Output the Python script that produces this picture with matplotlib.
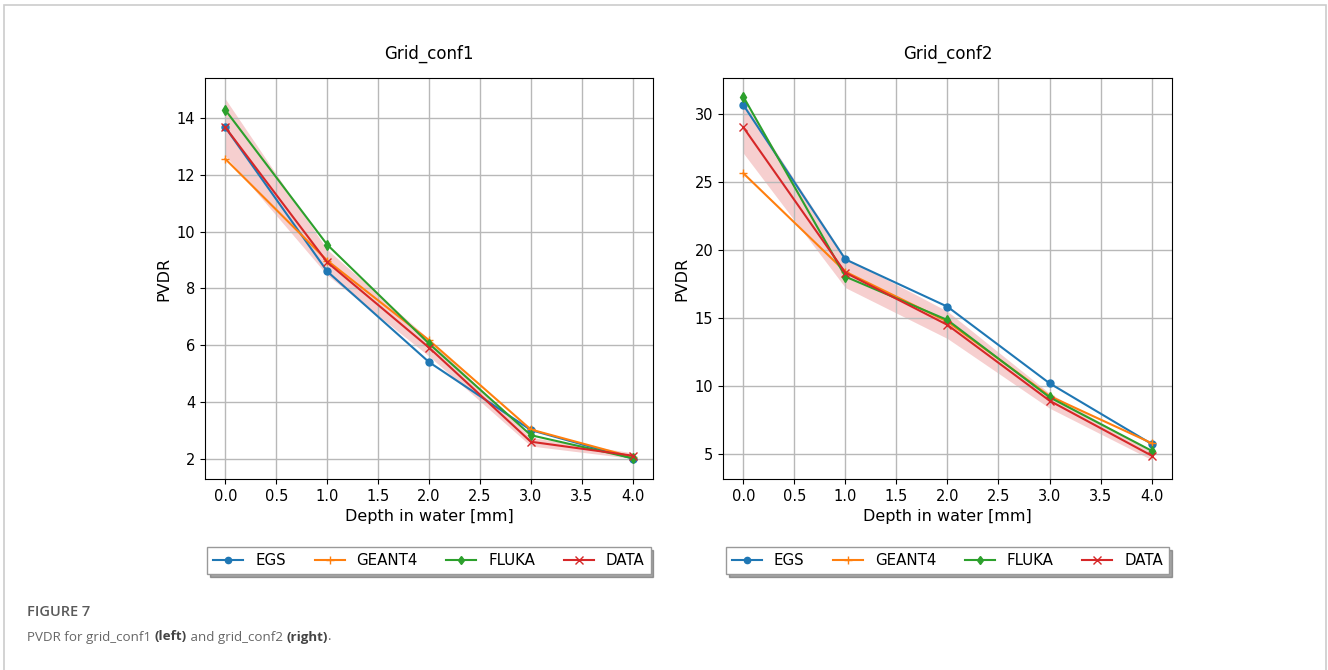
import numpy as np
from matplotlib import pyplot as plt
from matplotlib.patches import Rectangle

# depth points [mm]
depth = [0.0, 1.0, 2.0, 3.0, 4.0]

# Grid_conf1
egs_1 = [13.66, 8.60, 5.41, 3.02, 2.02]
geant4_1 = [12.55, 8.98, 6.18, 3.04, 2.07]
fluka_1 = [14.27, 9.54, 6.06, 2.84, 2.03]
data_1 = [13.66, 8.92, 5.92, 2.61, 2.12]
err_1 = [1.0, 0.45, 0.30, 0.15, 0.10]

# Grid_conf2
egs_2 = [30.66, 19.31, 15.83, 10.20, 5.74]
geant4_2 = [25.64, 18.40, 14.73, 9.26, 5.80]
fluka_2 = [31.27, 18.04, 14.85, 9.17, 5.24]
data_2 = [29.02, 18.33, 14.49, 8.92, 4.88]
err_2 = [1.9, 1.1, 1.0, 0.55, 0.30]

titles = ['Grid_conf1', 'Grid_conf2']
labels = ['EGS', 'GEANT4', 'FLUKA', 'DATA']


def draw(ax, title, egs, geant4, fluka, data, err):
    data = np.asarray(data)
    err = np.asarray(err)
    ax.plot(depth, egs, color='tab:blue', marker='o', ms=5, lw=1.5, label=labels[0])
    ax.plot(depth, geant4, color='tab:orange', marker='+', ms=6, lw=1.5, label=labels[1])
    ax.plot(depth, fluka, color='tab:green', marker='d', ms=5, lw=1.5, label=labels[2])
    ax.plot(depth, data, color='tab:red', marker='x', ms=6, lw=1.5, label=labels[3])
    ax.fill_between(depth, data - err, data + err, color='tab:red', alpha=0.22, lw=0)
    ax.set_title(title, fontsize=12, pad=14)
    ax.set_xlabel('Depth in water [mm]', fontsize=11.5, labelpad=4)
    ax.set_ylabel('PVDR', fontsize=11.5)
    ax.set_xticks(np.arange(0, 4.01, 0.5))
    ax.tick_params(labelsize=10.5)
    ax.grid(True, color='#b8b8b8', lw=1.0)
    ax.legend(loc='upper center', bbox_to_anchor=(0.5, -0.152), ncol=4,
              shadow=True, fontsize=10.8, columnspacing=1.9, handlelength=2.0,
              markerscale=0.9, fancybox=False, edgecolor='#999999')


fig = plt.figure(figsize=(13.28, 6.70), dpi=100)
ax1 = fig.add_axes([0.1544, 0.2851, 0.3373, 0.5985])
ax2 = fig.add_axes([0.5444, 0.2851, 0.3381, 0.5985])

draw(ax1, titles[0], egs_1, geant4_1, fluka_1, data_1, err_1)
draw(ax2, titles[1], egs_2, geant4_2, fluka_2, data_2, err_2)
ax1.set_ylim(1.3, 15.4)
ax2.set_ylim(3.16, 32.65)

# outer frame of the figure panel
fig.patches.append(Rectangle((4 / 1328, -0.05), 1322 / 1328, 0.05 + 1 - 5 / 670,
                             transform=fig.transFigure, fill=False,
                             edgecolor='#cccccc', lw=1.2))

# caption
cap_font = 'Open Sans'
fig.text(27 / 1328, 1 - 612 / 670, 'FIGURE 7', fontsize=10.5, family=cap_font,
         weight='semibold', color='#5a5a5a', va='center')
t = fig.text(27 / 1328, 1 - 637 / 670, 'PVDR for grid_conf1 ', fontsize=9.6,
             family=cap_font, color='#666666', va='center')
parts = [('(left)', 'bold'), (' and grid_conf2 ', 'normal'), ('(right)', 'bold'), ('.', 'normal')]
for s, w in parts:
    t = plt.annotate(s, xy=(1, 0.5), xycoords=t, va='center', ha='left',
                     fontsize=9.6, family=cap_font, weight=w,
                     color='#444444' if w == 'bold' else '#666666',
                     annotation_clip=False)

plt.savefig('out.png', dpi=100)
